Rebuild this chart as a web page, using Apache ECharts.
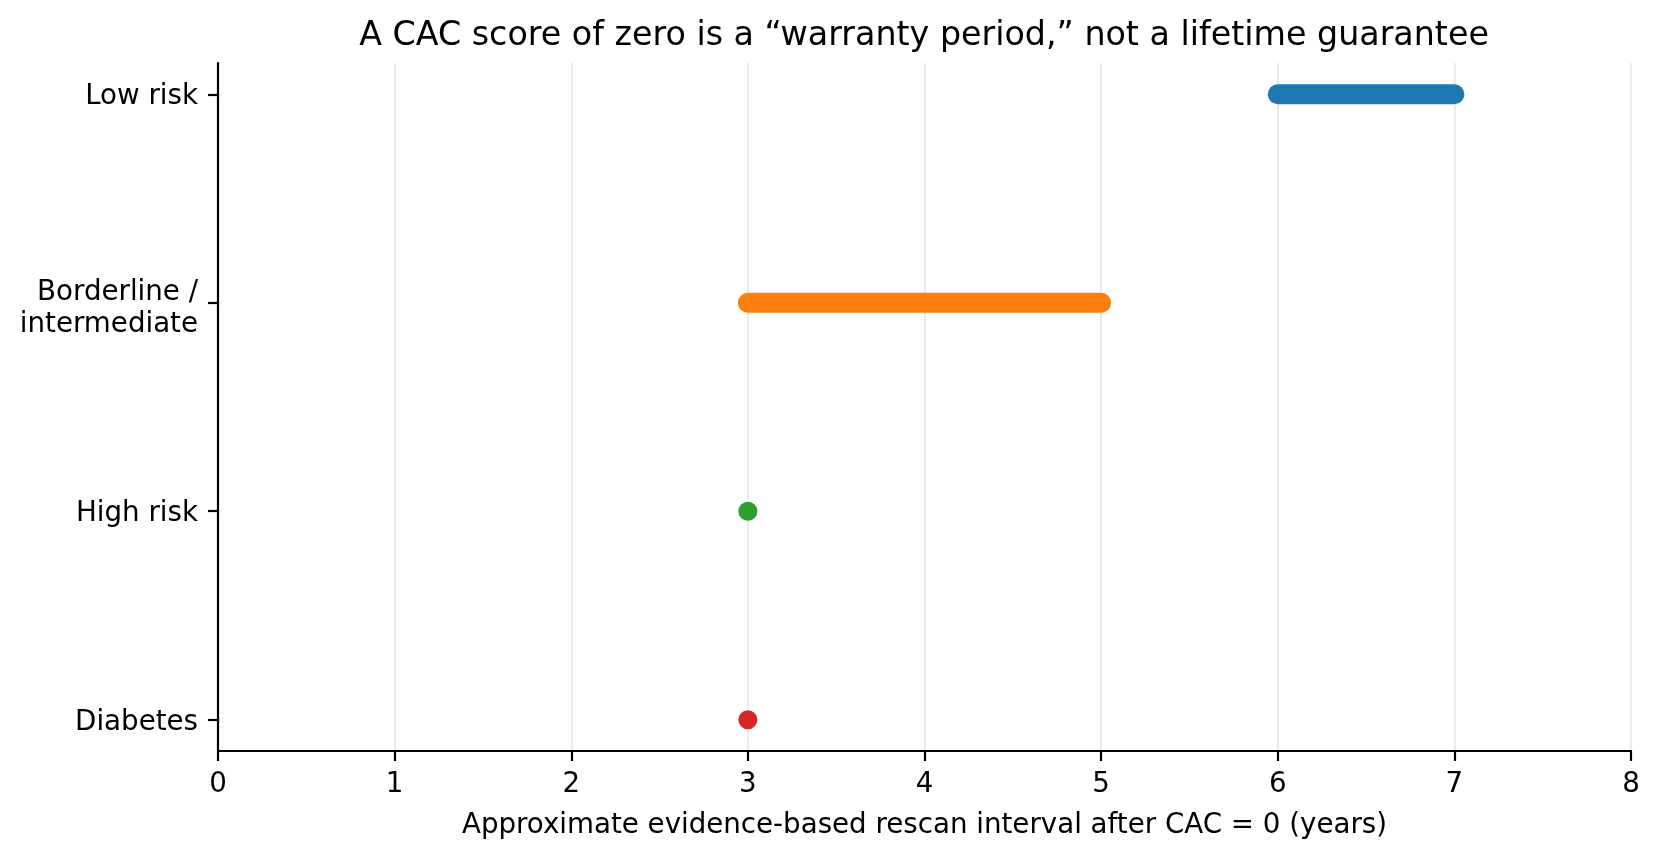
<!DOCTYPE html>
<html>
<head>
<meta charset="utf-8">
<title>CAC rescan interval</title>
<script src="https://cdn.jsdelivr.net/npm/echarts@6/dist/echarts.min.js"></script>
<style>
    html, body { margin: 0; padding: 0; background: #fff; }
    #chart { width: 1659px; height: 858px; }
</style>
</head>
<body>
<div id="chart"></div>
<script>
// rows, top to bottom
var categories = ["Low risk", "Borderline /\nintermediate", "High risk", "Diabetes"];
// rescan interval in years (start / end of the range)
var intervalStart = [6, 3, 3, 3];
var intervalEnd = [7, 5, 3, 3];
var rowColors = ["#1f77b4", "#ff7f0e", "#2ca02c", "#d62728"];
var xTicks = [0, 1, 2, 3, 4, 5, 6, 7, 8];

var font = "DejaVu Sans";
var chart = echarts.init(document.getElementById("chart"));

var series = [];
for (var i = 0; i < categories.length; i++) {
    if (intervalStart[i] === intervalEnd[i]) {
        // single value -> dot
        series.push({
            type: "scatter",
            data: [[intervalStart[i], i]],
            symbol: "circle",
            symbolSize: 19,
            itemStyle: {color: rowColors[i], opacity: 1},
            silent: true,
            z: 3
        });
    } else {
        series.push({
            type: "line",
            data: [[intervalStart[i], i], [intervalEnd[i], i]],
            showSymbol: false,
            lineStyle: {color: rowColors[i], width: 20, cap: "round"},
            silent: true,
            z: 3
        });
    }
}

// label text, nudged down a little to sit like the original
function rowLabel(v) {
    var lines = categories[Math.round(v)].split("\n");
    if (lines.length === 1) return "{s|" + lines[0] + "}";
    return "{e| }\n{n|" + lines[0] + "}\n{n|" + lines[1] + "}";
}

var labelText = {fontFamily: font, fontSize: 27.7, color: "#000", lineHeight: 32, align: "right"};

var option = {
    animation: false,
    backgroundColor: "#fff",
    title: {
        text: "A CAC score of zero is a \u201cwarranty period,\u201d not a lifetime guarantee",
        left: 919,
        textAlign: "center",
        top: 15,
        textStyle: {fontFamily: font, fontSize: 33.3, fontWeight: "normal", color: "#000"}
    },
    grid: {left: 218, right: 28, top: 63, bottom: 107},
    xAxis: {
        type: "value",
        min: xTicks[0],
        max: xTicks[xTicks.length - 1],
        interval: 1,
        name: "Approximate evidence-based rescan interval after CAC = 0 (years)",
        nameLocation: "middle",
        nameGap: 61,
        nameTextStyle: {fontFamily: font, fontSize: 27.7, color: "#000"},
        axisLine: {show: true, onZero: false, lineStyle: {color: "#000", width: 2.2}},
        axisTick: {show: true, length: 10, lineStyle: {color: "#000", width: 2.2}},
        axisLabel: {fontFamily: font, fontSize: 27.7, color: "#000", margin: 20},
        splitLine: {show: true, lineStyle: {color: "#ebebeb", width: 2}}
    },
    yAxis: {
        type: "value",
        inverse: true,
        min: -0.15,
        max: 3.15,
        axisLine: {show: true, onZero: false, lineStyle: {color: "#000", width: 2.2}},
        axisTick: {show: true, length: 10, customValues: [0, 1, 2, 3], lineStyle: {color: "#000", width: 2.2}},
        axisLabel: {
            customValues: [0, 1, 2, 3],
            fontFamily: font, fontSize: 27.7, color: "#000", margin: 20, lineHeight: 32,
            formatter: rowLabel,
            rich: {
                s: Object.assign({padding: [6, 0, 0, 0]}, labelText),
                e: {fontSize: 1, lineHeight: 12},
                n: labelText
            }
        },
        splitLine: {show: false}
    },
    series: series
};
chart.setOption(option);
</script>
</body>
</html>
